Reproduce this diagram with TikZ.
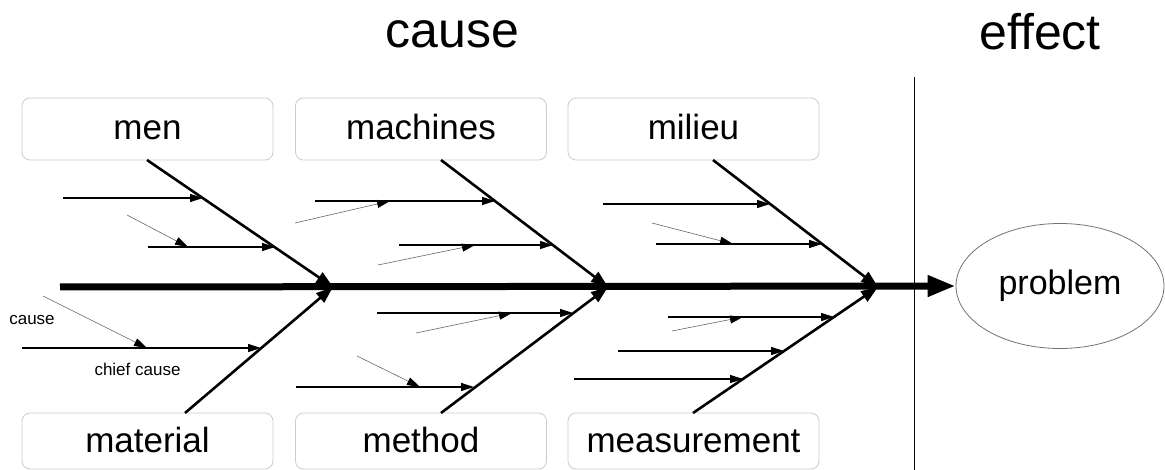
\documentclass[tikz,border=0pt]{standalone}
\usepackage{fontspec}
\setmainfont{Liberation Sans}
\usetikzlibrary{arrows.meta,shapes.geometric}
\begin{document}
\begin{tikzpicture}[x=1pt,y=-1pt,
  spine/.style={line width=7pt,-{Triangle[length=28pt,width=20pt]}},
  bone/.style={line width=2.6pt,-{Triangle[length=17pt,width=12pt]}},
  sub/.style={line width=1.2pt,-{Triangle[length=13pt,width=8pt]}},
  thin/.style={line width=0.6pt,draw=black!60,-{Triangle[length=13pt,width=8pt,black]}},
  catbox/.style={draw=black!20,line width=0.8pt,rounded corners=8pt,
    minimum width=251pt,minimum height=62pt,inner sep=0pt,
    font=\fontsize{35}{40}\selectfont,text height=26pt,text depth=4pt},
  title/.style={anchor=base,font=\fontsize{50}{60}\selectfont},
  small/.style={anchor=base,font=\fontsize{17}{20}\selectfont}]
\useasboundingbox (0,0) rectangle (1165,470);
% titles
\node[title] (tcause) at (452.5,48) {cause};
\node[title] (teffect) at (1040,50) {effect};
% separator
\coordinate (vt) at (914,77);
\coordinate (vb) at (914,470);
\draw[line width=1pt] (vt) -- (vb);
% boxes
\node[catbox] (men) at (147.5,129) {men};
\node[catbox] (machines) at (421,129) {machines};
\node[catbox] (milieu) at (693.5,129) {milieu};
\node[catbox,minimum height=56pt] (material) at (147.5,441) {material};
\node[catbox,minimum height=56pt] (method) at (421,441) {method};
\node[catbox,minimum height=56pt] (measurement) at (693.5,441) {measurement};
% effect
\node[ellipse,draw=black!55,line width=0.8pt,minimum width=208pt,minimum height=125pt,
  font=\fontsize{34}{40}\selectfont] (problem) at (1060,286) {problem};
% spine
\coordinate (s0) at (60,287);
\draw[spine] (s0) -- (problem.west);
% bone coordinates
\coordinate (mT) at (147,160);
\coordinate (J1) at (333,287);
\coordinate (maB) at (185,413);
\coordinate (maT) at (441,160);
\coordinate (J2) at (608,287);
\coordinate (meB) at (441,413);
\coordinate (miT) at (713,160);
\coordinate (J3) at (878,287);
\coordinate (msB) at (693,413);
\draw[bone] (mT) -- (J1);
\draw[bone] (maB) -- (J1);
\draw[bone] (maT) -- (J2);
\draw[bone] (meB) -- (J2);
\draw[bone] (miT) -- (J3);
\draw[bone] (msB) -- (J3);
% sub causes
\foreach \n/\xa/\xb/\y in {1/63/203/198, 2/148/275/247, 3/22/261/348,
  4/315/495/201, 5/399/553/245, 6/377/573/313, 7/296/474/387,
  8/603/770/204, 9/656/822/244, 10/668/834/317, 11/618/784/351, 12/574/743/379}{
  \coordinate (a\n s) at (\xa,\y);
  \coordinate (a\n e) at (\xb,\y);
  \draw[sub] (a\n s) -- (a\n e);
}
% minor causes
\foreach \n/\xa/\ya/\xb/\yb in {1/127/215/188/247, 2/43/296/147/348,
  3/295/223/390/201, 4/378/265/475/245, 5/416/333/512/313, 6/357/356/420/387,
  7/652/223/733/244, 8/672/331/743/317}{
  \coordinate (t\n s) at (\xa,\ya);
  \coordinate (t\n e) at (\xb,\yb);
  \draw[thin] (t\n s) -- (t\n e);
}
% labels
\node[small] (lcause) at (32,325) {cause};
\node[small] (lchief) at (137.5,375) {chief cause};
\end{tikzpicture}
\end{document}
